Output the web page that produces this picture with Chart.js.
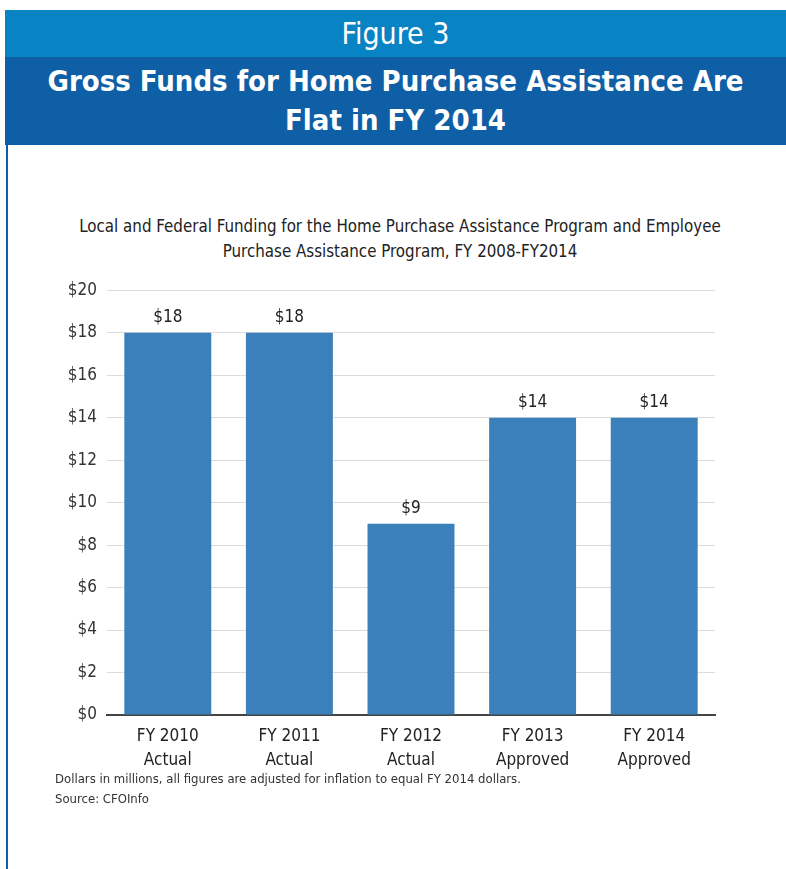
<!DOCTYPE html>
<html>
<head>
<meta charset="utf-8">
<script src="https://cdn.jsdelivr.net/npm/chart.js@4.4.1/dist/chart.umd.min.js"></script>
<style>
  body { margin: 0; width: 786px; height: 869px; background: #fff; position: relative; overflow: hidden;
         font-family: "DejaVu Sans Condensed", "Liberation Sans Narrow", "Liberation Sans", sans-serif; }
  #band1 { position: absolute; left: 5px; top: 10px; width: 781px; height: 47px; background: #0883c4;
           color: #fff; font-size: 30px; line-height: 48px; text-align: center; }
  #band2 { position: absolute; left: 5px; top: 57px; width: 781px; height: 88px; background: #0f5fa6;
           color: #fff; font-size: 29px; font-weight: bold; line-height: 39px; text-align: center;
           box-sizing: border-box; padding-top: 5px; }
  #edge { position: absolute; left: 6px; top: 145px; width: 2px; height: 724px; background: #0f5fa6; }
  #ctitle { position: absolute; left: 0; top: 214px; width: 800px; text-align: center;
            font-size: 16.8px; line-height: 25px; color: #222; }
  #wrap { position: absolute; left: 0; top: 270px; width: 786px; height: 505px; }
  #note { position: absolute; left: 55px; top: 769px; font-size: 13px; line-height: 20px; color: #333; }
</style>
</head>
<body>
<div id="band1">Figure 3</div>
<div id="band2">Gross Funds for Home Purchase Assistance Are<br>Flat in FY 2014</div>
<div id="edge"></div>
<div id="ctitle">Local and Federal Funding for the Home Purchase Assistance Program and Employee<br>Purchase Assistance Program, FY 2008-FY2014</div>
<div id="wrap"><canvas id="chart"></canvas></div>
<div id="note">Dollars in millions, all figures are adjusted for inflation to equal FY 2014 dollars.<br>Source: CFOInfo</div>

<script>
const years = ['FY 2010', 'FY 2011', 'FY 2012', 'FY 2013', 'FY 2014']
const status = ['Actual', 'Actual', 'Actual', 'Approved', 'Approved']
const funds = [18, 18, 9, 14, 14]
const yTicks = [0, 2, 4, 6, 8, 10, 12, 14, 16, 18, 20]

const fontFamily = '"DejaVu Sans Condensed", "Liberation Sans Narrow", "Liberation Sans", sans-serif'
const labels = years.map((y, i) => [y, status[i]])

// draws "$18" etc above each bar
const barLabels = {
  id: 'barLabels',
  afterDatasetsDraw(chart) {
    const ctx = chart.ctx
    const meta = chart.getDatasetMeta(0)
    ctx.save()
    ctx.font = '17px ' + fontFamily
    ctx.fillStyle = '#222'
    ctx.textAlign = 'center'
    ctx.textBaseline = 'bottom'
    meta.data.forEach((bar, i) => {
      ctx.fillText('$' + funds[i], bar.x, bar.y - 7)
    })
    ctx.restore()
  }
}

const ctx = document.getElementById('chart').getContext('2d')
const chart = new Chart(ctx, {
  type: 'bar',
  data: {
    labels: labels,
    datasets: [{
      data: funds,
      backgroundColor: '#3b80bb',
      categoryPercentage: 1,
      barPercentage: 0.715
    }]
  },
  options: {
    responsive: true,
    maintainAspectRatio: false,
    animation: false,
    layout: { padding: { top: 18, right: 71, left: 0, bottom: 0 } },
    plugins: {
      legend: { display: false },
      tooltip: { enabled: false }
    },
    scales: {
      y: {
        min: 0,
        max: 20,
        afterBuildTicks(scale) {
          scale.ticks = yTicks.map(v => ({ value: v }))
        },
        afterFit(scale) { scale.width = 107 },
        ticks: {
          callback: v => '$' + v,
          font: { family: fontFamily, size: 17 },
          color: '#333',
          padding: 10
        },
        grid: { color: '#dcdcdc', drawTicks: false },
        border: { display: false }
      },
      x: {
        afterFit(scale) { scale.height = 60 },
        ticks: {
          font: { family: fontFamily, size: 17, lineHeight: 1.41 },
          color: '#222',
          padding: 2
        },
        grid: { display: false },
        border: { color: '#444', width: 2 }
      }
    }
  },
  plugins: [barLabels]
})
</script>
</body>
</html>
